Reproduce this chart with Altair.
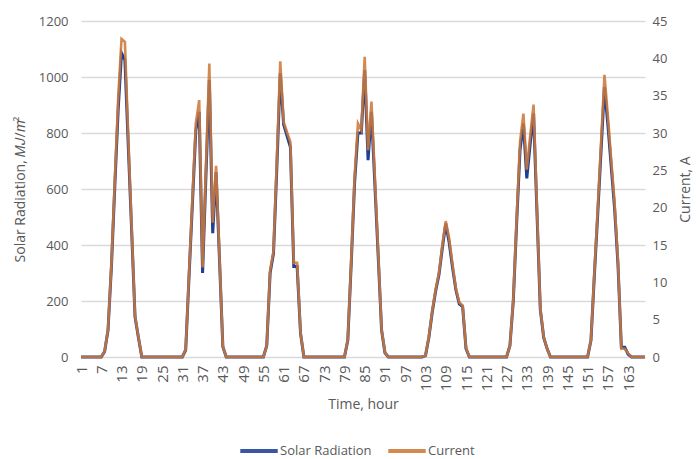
import altair as alt
import pandas as pd

# Solar radiation (left axis), one list per day of 24 hours
rad_d1 = [0, 0, 0, 0, 0, 0, 0, 20, 96, 321, 607, 882, 1085, 1060, 754, 449, 143, 70, 0, 0, 0, 0, 0, 0]
rad_d2 = [0, 0, 0, 0, 0, 0, 0, 25, 290, 550, 810, 876, 300, 650, 989, 442, 660, 350, 37, 0, 0, 0, 0, 0]
rad_d3 = [0, 0, 0, 0, 0, 0, 0, 40, 300, 370, 680, 1013, 830, 790, 750, 323, 323, 85, 0, 0, 0, 0, 0, 0]
rad_d4 = [0, 0, 0, 0, 0, 0, 0, 60, 330, 620, 800, 800, 1025, 703, 876, 620, 360, 96, 15, 0, 0, 0, 0, 0]
rad_d5 = [0, 0, 0, 0, 0, 0, 5, 70, 160, 235, 295, 390, 477, 410, 320, 240, 190, 180, 30, 0, 0, 0, 0, 0]
rad_d6 = [0, 0, 0, 0, 0, 0, 0, 40, 200, 480, 740, 834, 638, 760, 870, 520, 170, 70, 30, 0, 0, 0, 0, 0]
rad_d7 = [0, 0, 0, 0, 0, 0, 0, 60, 290, 510, 740, 965, 830, 680, 530, 330, 35, 35, 10, 0, 0, 0, 0, 0]

# Current (right axis, A)
cur_d1 = [0, 0, 0, 0, 0, 0, 0, 0.8, 3.7, 12.3, 23.5, 34.5, 42.6, 42.2, 29.4, 17.3, 5.5, 2.7, 0, 0, 0, 0, 0, 0]
cur_d2 = [0, 0, 0, 0, 0, 0, 0, 1.0, 11.2, 21.3, 31.3, 34.4, 12.0, 25.5, 39.3, 18.0, 25.6, 13.5, 1.4, 0, 0, 0, 0, 0]
cur_d3 = [0, 0, 0, 0, 0, 0, 0, 1.5, 11.6, 14.2, 26.5, 39.6, 31.5, 30.1, 28.8, 12.6, 12.6, 3.3, 0, 0, 0, 0, 0, 0]
cur_d4 = [0, 0, 0, 0, 0, 0, 0, 2.3, 12.7, 24.0, 31.3, 30.4, 40.2, 27.7, 34.2, 24.2, 14.0, 3.7, 0.6, 0, 0, 0, 0, 0]
cur_d5 = [0, 0, 0, 0, 0, 0, 0.2, 2.7, 6.2, 9.0, 11.3, 15.0, 18.2, 15.9, 12.4, 9.2, 7.3, 6.9, 1.2, 0, 0, 0, 0, 0]
cur_d6 = [0, 0, 0, 0, 0, 0, 0, 1.5, 7.7, 18.5, 28.8, 32.6, 25.1, 29.6, 33.8, 20.2, 6.5, 2.7, 1.1, 0, 0, 0, 0, 0]
cur_d7 = [0, 0, 0, 0, 0, 0, 0, 2.3, 11.2, 19.8, 28.8, 37.8, 32.3, 26.4, 20.6, 12.8, 1.1, 1.1, 0.5, 0, 0, 0, 0, 0]

radiation = rad_d1 + rad_d2 + rad_d3 + rad_d4 + rad_d5 + rad_d6 + rad_d7
current = cur_d1 + cur_d2 + cur_d3 + cur_d4 + cur_d5 + cur_d6 + cur_d7
hours = list(range(1, len(radiation) + 1))

x_ticks = list(range(1, 168, 6))
left_ticks = [0, 200, 400, 600, 800, 1000, 1200]
right_ticks = [0, 5, 10, 15, 20, 25, 30, 35, 40, 45]

series = ["Solar Radiation", "Current"]
series_colors = ["#1F3F96", "#CC7A3A"]

df = pd.DataFrame({"hour": hours, "radiation": radiation, "current": current})

FONT = "Open Sans"
GRAY = "#595959"
GRID = "#D9D9D9"

color_scale = alt.Scale(domain=series, range=series_colors)
color_enc = alt.Color("series:N", scale=color_scale, legend=alt.Legend(title=None))

x_axis = alt.Axis(
    values=x_ticks, labelAngle=270, title="Time, hour", grid=False,
    ticks=False, domain=False, labelPadding=8, titlePadding=7,
    labelOverlap=False, labelFlush=False, labelBound=False, format="d",
    labelFont=FONT, labelFontSize=15, labelColor=GRAY, labelAlign="right",
    labelBaseline="middle",
    titleFont=FONT, titleFontSize=14, titleFontWeight="normal", titleColor=GRAY,
)
x_scale = alt.Scale(domain=[1, 168], nice=False, zero=False)

rad_line = alt.Chart(df).transform_calculate(
    series="'Solar Radiation'"
).mark_line(strokeWidth=3).encode(
    x=alt.X("hour:Q", scale=x_scale, axis=x_axis),
    y=alt.Y(
        "radiation:Q",
        scale=alt.Scale(domain=[0, 1200], nice=False),
        axis=alt.Axis(
            values=left_ticks, title="Solar Radiation, 𝑀𝐽/𝑚²", grid=True, format="d",
            gridColor=GRID, gridWidth=1.3, domain=False, ticks=False, labelPadding=13,
            titlePadding=11, labelFont=FONT, labelFontSize=13, labelColor=GRAY,
            titleFont=FONT, titleFontSize=14, titleFontWeight="normal", titleColor=GRAY,
        ),
    ),
    color=color_enc,
)

cur_line = alt.Chart(df).transform_calculate(
    series="'Current'"
).mark_line(strokeWidth=2.6, opacity=0.88).encode(
    x=alt.X("hour:Q", scale=x_scale, axis=x_axis),
    y=alt.Y(
        "current:Q",
        scale=alt.Scale(domain=[0, 45], nice=False),
        axis=alt.Axis(
            orient="right", values=right_ticks, title="Current, A", grid=False,
            domain=False, ticks=False, labelPadding=7, titleAngle=270,
            titleX=40, titleY=168, titleAlign="center", titleBaseline="middle",
            labelFont=FONT, labelFontSize=13, labelColor=GRAY,
            titleFont=FONT, titleFontSize=14, titleFontWeight="normal", titleColor=GRAY,
        ),
    ),
    color=color_enc,
)

chart = (
    alt.layer(rad_line, cur_line)
    .resolve_scale(y="independent")
    .properties(
        width=564, height=336,
        padding={"left": 81, "top": 21, "right": 51, "bottom": 102},
        autosize=alt.AutoSizeParams(type="none"),
        background="white",
    )
    .configure_view(stroke=None)
    .configure_legend(
        orient="none", legendX=157, legendY=409, direction="horizontal",
        symbolType="stroke", symbolSize=1400, symbolStrokeWidth=4,
        labelFont=FONT, labelFontSize=13, labelColor=GRAY, columnPadding=8,
        labelOffset=0,
    )
)

chart.save("out.html", embed_options={"renderer": "svg", "actions": False})
